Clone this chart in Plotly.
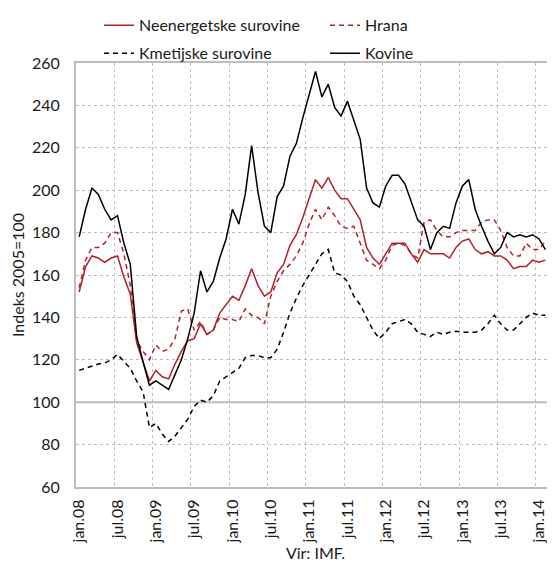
import plotly.graph_objects as go

# mesečne kategorije jan.08 - feb.14
mes = ["jan", "feb", "mar", "apr", "maj", "jun", "jul", "avg", "sep", "okt", "nov", "dec"]
meseci = [f"{mes[i % 12]}.{8 + i // 12:02d}" for i in range(74)]

neenergetske = [152, 164, 169, 168, 166, 168, 169, 159, 151, 128, 119, 110, 115, 112, 111, 118,
                124, 129, 130, 137, 132, 134, 142, 146, 150, 148, 155, 163, 155, 150, 152, 161,
                165, 174, 179, 187, 196, 205, 201, 206, 200, 196, 196, 191, 186, 173, 168, 165,
                170, 175, 175, 175, 170, 166, 172, 170, 170, 170, 168, 173, 176, 177, 172, 170,
                171, 169, 169, 167, 163, 164, 164, 167, 166, 167]
hrana = [154, 167, 173, 173, 175, 180, 180, 170, 155, 129, 124, 120, 127, 124, 125, 130,
         143, 144, 134, 138, 132, 134, 140, 139, 139, 138, 144, 141, 140, 137, 150, 157,
         162, 165, 169, 175, 184, 191, 186, 192, 188, 183, 182, 183, 175, 167, 165, 163,
         167, 174, 175, 174, 170, 168, 185, 186, 181, 178, 178, 180, 181, 181, 181, 185,
         186, 186, 181, 173, 169, 169, 175, 172, 172, 176]
kmetijske = [115, 116, 117, 118, 118.5, 120, 122.5, 119, 116, 110, 105, 88, 90, 85, 81.5, 84,
             88, 92, 98, 101, 100, 103, 110, 112, 114, 116, 121, 122, 122, 121, 121, 125,
             133, 142, 149, 155, 160, 165, 170, 172, 161, 160, 157, 150, 146, 140, 134, 130,
             133, 137, 138, 139, 137, 133, 132, 131, 133, 132, 133, 133.5, 133, 133, 133, 134,
             137, 141, 137, 134, 134, 137, 140, 142, 141, 141]
kovine = [178, 191, 201, 198, 191, 186, 188, 175, 165, 131, 119, 108, 110, 108, 106, 113,
          120, 130, 142, 162, 152, 157, 168, 177, 191, 184, 198, 221, 199, 183, 180, 197,
          202, 216, 222, 234, 245, 256, 244, 250, 239, 235, 242, 233, 224, 201, 194, 192,
          202, 207, 207, 203, 194, 186, 183, 172, 180, 183, 182, 194, 202, 205, 191, 183,
          176, 170, 173, 180, 178, 179, 178, 179, 177, 172]

rdeca = "#B3202A"
crta = "5px,4px"

fig = go.Figure()
fig.add_trace(go.Scatter(x=meseci, y=neenergetske, mode="lines", name="Neenergetske surovine",
                         line=dict(color=rdeca, width=1.5), legend="legend"))
fig.add_trace(go.Scatter(x=meseci, y=hrana, mode="lines", name="Hrana",
                         line=dict(color=rdeca, width=1.5, dash=crta), legend="legend"))
fig.add_trace(go.Scatter(x=meseci, y=kmetijske, mode="lines", name="Kmetijske surovine",
                         line=dict(color="black", width=1.5, dash=crta), legend="legend2"))
fig.add_trace(go.Scatter(x=meseci, y=kovine, mode="lines", name="Kovine",
                         line=dict(color="black", width=1.5), legend="legend2"))

leg = dict(orientation="h", x=0.048, xanchor="left", yanchor="middle",
           entrywidth=181, entrywidthmode="pixels", font=dict(size=16),
           bgcolor="rgba(0,0,0,0)")

# stran ima 8 px roba, zato je slika manjša za 8 px
fig.update_layout(
    width=547, height=555,
    margin=dict(l=68, r=0, t=52, b=76),
    paper_bgcolor="white", plot_bgcolor="white",
    font=dict(family="Lato", size=16, color="#1a1a1a"),
    showlegend=True,
    legend=dict(leg, y=1.089),
    legend2=dict(leg, y=1.023),
    xaxis=dict(
        type="category", range=[-0.5, 74.5], tickmode="linear", tick0=0, dtick=6,
        tickson="boundaries", tickangle=-90, ticks="", ticklabelstandoff=4,
        showgrid=True, gridcolor="#bdbdbd", griddash="dot", gridwidth=1,
        showline=True, linecolor="#bdbdbd", linewidth=2, mirror=True,
        automargin=False,
        title=dict(text="Vir: IMF.", standoff=2, font=dict(size=16)),
    ),
    yaxis=dict(
        range=[60, 260], tickmode="linear", tick0=60, dtick=20, ticks="",
        ticklabelstandoff=11, automargin=False,
        showgrid=True, gridcolor="#bdbdbd", griddash="dot", gridwidth=1,
        showline=True, linecolor="#bdbdbd", linewidth=2,
        zeroline=False,
        title=dict(text="Indeks 2005=100", standoff=7, font=dict(size=16)),
    ),
    shapes=[dict(type="line", xref="paper", x0=0, x1=1, yref="y", y0=100, y1=100,
                 line=dict(color="#bdbdbd", width=2), layer="below")],
)

fig.write_html("out.html")
